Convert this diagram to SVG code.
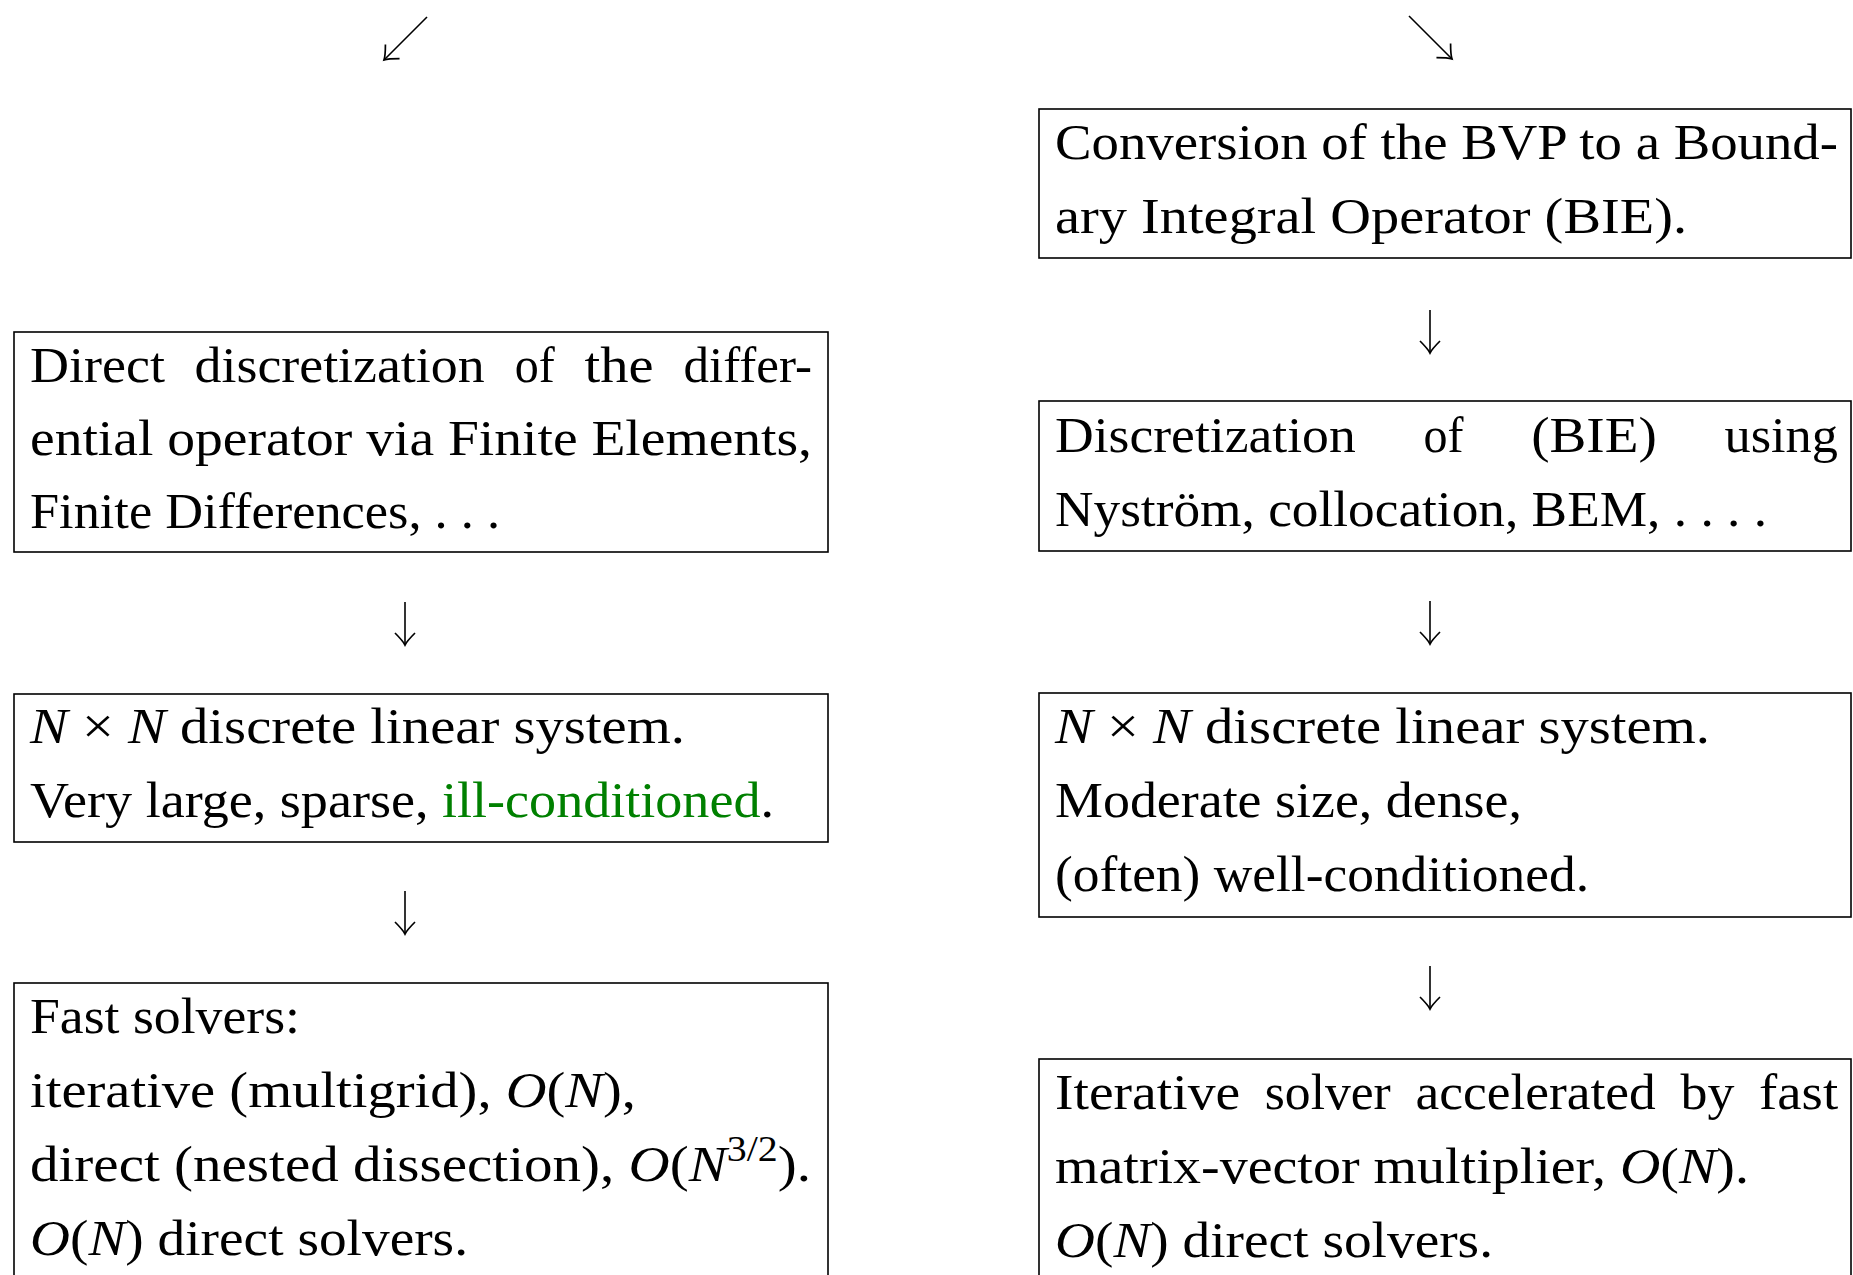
<svg xmlns="http://www.w3.org/2000/svg" width="1853" height="1275" viewBox="0 0 1853 1275">
<defs>
<style>
.box{fill:#fff;stroke:#000;stroke-width:1.6}
.t{font-family:"Liberation Serif","Times New Roman",serif;font-size:50px;fill:#000}
.i{font-style:italic}
.g{fill:#008000}
.sup{font-size:35px}
.c{fill:none;stroke:#000;stroke-width:1.6}
</style>
<marker id="ah" markerUnits="userSpaceOnUse" markerWidth="30" markerHeight="30" viewBox="-15 -15 30 30" refX="0" refY="0" orient="auto" overflow="visible">
<path d="M-12,-10 Q-4,-2 0,0 Q-4,2 -12,10" fill="none" stroke="#000" stroke-width="1.7"/>
</marker>
</defs>
<rect width="1853" height="1275" fill="#fff"/>

<g id="connectors">
<line class="c" x1="427" y1="17" x2="384" y2="60" marker-end="url(#ah)"/>
<line class="c" x1="1409" y1="16" x2="1452" y2="59" marker-end="url(#ah)"/>
<line class="c" x1="1430" y1="310" x2="1430" y2="353" marker-end="url(#ah)"/>
<line class="c" x1="1430" y1="601" x2="1430" y2="644" marker-end="url(#ah)"/>
<line class="c" x1="1430" y1="966" x2="1430" y2="1009" marker-end="url(#ah)"/>
<line class="c" x1="405" y1="602" x2="405" y2="645" marker-end="url(#ah)"/>
<line class="c" x1="405" y1="891" x2="405" y2="934" marker-end="url(#ah)"/>
</g>

<g id="left-direct">
<rect class="box" x="14" y="332" width="814" height="220"/>
<text class="t" x="30" y="382" textLength="135" lengthAdjust="spacingAndGlyphs">Direct</text>
<text class="t" x="194.6" y="382" textLength="290" lengthAdjust="spacingAndGlyphs">discretization</text>
<text class="t" x="514.7" y="382" textLength="40" lengthAdjust="spacingAndGlyphs">of</text>
<text class="t" x="584.6" y="382" textLength="69" lengthAdjust="spacingAndGlyphs">the</text>
<text class="t" x="683.5" y="382" textLength="128.5" lengthAdjust="spacingAndGlyphs">differ-</text>
<text class="t" x="30" y="455" textLength="782" lengthAdjust="spacingAndGlyphs">ential operator via Finite Elements,</text>
<text class="t" x="30" y="528" textLength="470" lengthAdjust="spacingAndGlyphs">Finite Differences, . . .</text>
</g>

<g id="left-system">
<rect class="box" x="14" y="694" width="814" height="148"/>
<text class="t" x="30" y="743" textLength="655" lengthAdjust="spacingAndGlyphs"><tspan class="i">N</tspan> × <tspan class="i">N</tspan> discrete linear system.</text>
<text class="t" x="30" y="817" textLength="744" lengthAdjust="spacingAndGlyphs">Very large, sparse, <tspan class="g">ill-conditioned</tspan>.</text>
</g>

<g id="left-solvers">
<rect class="box" x="14" y="983" width="814" height="320"/>
<text class="t" x="30" y="1033" textLength="270" lengthAdjust="spacingAndGlyphs">Fast solvers:</text>
<text class="t" x="30" y="1107" textLength="606" lengthAdjust="spacingAndGlyphs">iterative (multigrid), <tspan class="i">O</tspan>(<tspan class="i">N</tspan>),</text>
<text class="t" x="30" y="1181" textLength="781" lengthAdjust="spacingAndGlyphs">direct (nested dissection), <tspan class="i">O</tspan>(<tspan class="i">N</tspan><tspan class="sup" dy="-20">3/2</tspan><tspan dy="20">).</tspan></text>
<text class="t" x="30" y="1255" textLength="438" lengthAdjust="spacingAndGlyphs"><tspan class="i">O</tspan>(<tspan class="i">N</tspan>) direct solvers.</text>
</g>

<g id="right-conversion">
<rect class="box" x="1039" y="109" width="812" height="149"/>
<text class="t" x="1055" y="159" textLength="783" lengthAdjust="spacingAndGlyphs">Conversion of the BVP to a Bound-</text>
<text class="t" x="1055" y="233" textLength="632" lengthAdjust="spacingAndGlyphs">ary Integral Operator (BIE).</text>
</g>

<g id="right-discretization">
<rect class="box" x="1039" y="401" width="812" height="150"/>
<text class="t" x="1055" y="452" textLength="300.7" lengthAdjust="spacingAndGlyphs">Discretization</text>
<text class="t" x="1423.4" y="452" textLength="40" lengthAdjust="spacingAndGlyphs">of</text>
<text class="t" x="1531.2" y="452" textLength="125.6" lengthAdjust="spacingAndGlyphs">(BIE)</text>
<text class="t" x="1724.5" y="452" textLength="113.5" lengthAdjust="spacingAndGlyphs">using</text>
<text class="t" x="1055" y="526" textLength="712" lengthAdjust="spacingAndGlyphs">Nyström, collocation, BEM, . . . .</text>
</g>

<g id="right-system">
<rect class="box" x="1039" y="693" width="812" height="224"/>
<text class="t" x="1055" y="743" textLength="655" lengthAdjust="spacingAndGlyphs"><tspan class="i">N</tspan> × <tspan class="i">N</tspan> discrete linear system.</text>
<text class="t" x="1055" y="817" textLength="467" lengthAdjust="spacingAndGlyphs">Moderate size, dense,</text>
<text class="t" x="1055" y="891" textLength="534" lengthAdjust="spacingAndGlyphs">(often) well-conditioned.</text>
</g>

<g id="right-solver">
<rect class="box" x="1039" y="1059" width="812" height="250"/>
<text class="t" x="1055" y="1109" textLength="185.1" lengthAdjust="spacingAndGlyphs">Iterative</text>
<text class="t" x="1264.8" y="1109" textLength="126" lengthAdjust="spacingAndGlyphs">solver</text>
<text class="t" x="1415.5" y="1109" textLength="240.3" lengthAdjust="spacingAndGlyphs">accelerated</text>
<text class="t" x="1680.5" y="1109" textLength="53.9" lengthAdjust="spacingAndGlyphs">by</text>
<text class="t" x="1759.1" y="1109" textLength="79" lengthAdjust="spacingAndGlyphs">fast</text>
<text class="t" x="1055" y="1183" textLength="694" lengthAdjust="spacingAndGlyphs">matrix-vector multiplier, <tspan class="i">O</tspan>(<tspan class="i">N</tspan>).</text>
<text class="t" x="1055" y="1257" textLength="438" lengthAdjust="spacingAndGlyphs"><tspan class="i">O</tspan>(<tspan class="i">N</tspan>) direct solvers.</text>
</g>
</svg>
